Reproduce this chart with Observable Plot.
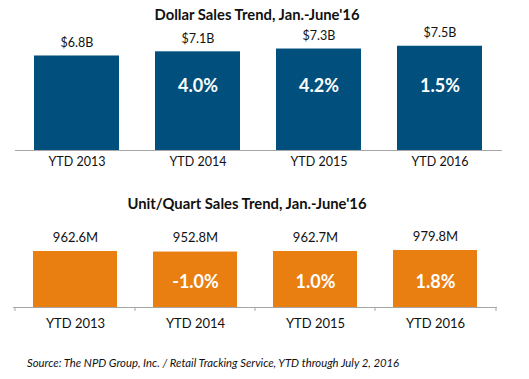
<!DOCTYPE html>
<html>
<head>
<meta charset="utf-8">
<script src="https://cdn.jsdelivr.net/npm/d3@7"></script>
<script src="https://cdn.jsdelivr.net/npm/@observablehq/plot@0.6"></script>
<style>
  html, body { margin: 0; padding: 0; background: #fff; }
  #wrap { position: relative; width: 529px; height: 379px; overflow: hidden; font-family: Lato, "Open Sans", sans-serif; color: #111; }
  .title { position: absolute; font-weight: bold; font-size: 14.8px; line-height: 16px; white-space: nowrap; transform: translateX(-50%); }
  .chart { position: absolute; left: 0; }
  .chart svg { display: block; }
  #source { position: absolute; left: 27px; top: 356px; font-style: italic; font-size: 11.3px; line-height: 14px; white-space: nowrap; color: #111; }
</style>
</head>
<body>
<div id="wrap">
  <div class="title" id="t1" style="left:257px; top:6px;">Dollar Sales Trend, Jan.-June'16</div>
  <div class="chart" id="c1" style="top:24px;"></div>
  <div class="title" id="t2" style="left:247px; top:195px;">Unit/Quart Sales Trend, Jan.-June'16</div>
  <div class="chart" id="c2" style="top:212px;"></div>
  <div id="source">Source: The NPD Group, Inc. / Retail Tracking Service, YTD through July 2, 2016</div>
</div>
<script>
const categories = ["YTD 2013", "YTD 2014", "YTD 2015", "YTD 2016"];
const dollarSales = [6.8, 7.1, 7.3, 7.5];          // $ billions
const dollarGrowth = [null, "4.0%", "4.2%", "1.5%"];
const unitSales = [962.6, 952.8, 962.7, 979.8];     // millions of units
const unitGrowth = [null, "-1.0%", "1.0%", "1.8%"];

const dollarData = categories.map((c, i) => ({cat: c, value: dollarSales[i], label: `$${dollarSales[i].toFixed(1)}B`, growth: dollarGrowth[i]}));
const unitData = categories.map((c, i) => ({cat: c, value: unitSales[i], label: `${unitSales[i].toFixed(1)}M`, growth: unitGrowth[i]}));

const W = 529;
const font = "Lato, 'Open Sans', sans-serif";

// Top chart
{
  const H = 160, mt = 14.8, mb = 34, ml = 15, mr = 27;
  const chart = Plot.plot({
    width: W, height: H,
    marginTop: mt, marginBottom: mb, marginLeft: ml, marginRight: mr,
    style: {fontFamily: font, background: "transparent", overflow: "visible"},
    x: {type: "band", domain: categories, paddingInner: 0.295, paddingOuter: 0.1475, axis: null},
    y: {domain: [0, 8], axis: null},
    marks: [
      Plot.barY(dollarData, {x: "cat", y: "value", fill: "#004F7C"}),
      Plot.ruleY([0], {stroke: "#A6A6A6", strokeWidth: 1.2}),
      Plot.text(dollarData, {x: "cat", y: "value", text: "label", dy: -13, fontSize: 12.5, fill: "#111"}),
      Plot.text(dollarData.filter(d => d.growth), {x: "cat", text: "growth", frameAnchor: "top", dy: 40, fontSize: 18, fontWeight: "bold", fill: "#fff"}),
      Plot.text(dollarData, {x: "cat", text: "cat", frameAnchor: "bottom", dy: 15, fontSize: 12.5, fill: "#111"})
    ]
  });
  document.getElementById("c1").append(chart);
}

// Bottom chart
{
  const H = 130, mt = 36.8, mb = 35, ml = 13, mr = 32;
  const step = (W - ml - mr) / categories.length;
  const plotH = H - mt - mb;
  const chart = Plot.plot({
    width: W, height: H,
    marginTop: mt, marginBottom: mb, marginLeft: ml, marginRight: mr,
    style: {fontFamily: font, background: "transparent", overflow: "visible"},
    x: {type: "band", domain: categories, paddingInner: 0.3, paddingOuter: 0.155, axis: null},
    y: {domain: [0, 1000], axis: null},
    marks: [
      Plot.barY(unitData, {x: "cat", y: "value", fill: "#E97E11"}),
      Plot.ruleY([0], {stroke: "#A6A6A6", strokeWidth: 1.2}),
      Plot.ruleX(categories, {x: d => d, dx: -step / 2, insetTop: plotH, insetBottom: -4, stroke: "#A6A6A6"}),
      Plot.ruleX(categories.slice(-1), {x: d => d, dx: step / 2, insetTop: plotH, insetBottom: -4, stroke: "#A6A6A6"}),
      Plot.text(unitData, {x: "cat", y: "value", text: "label", dy: -14, fontSize: 13, fill: "#111"}),
      Plot.text(unitData.filter(d => d.growth), {x: "cat", text: "growth", frameAnchor: "top", dy: 26, fontSize: 18, fontWeight: "bold", fill: "#fff"}),
      Plot.text(unitData, {x: "cat", text: "cat", frameAnchor: "bottom", dy: 20, fontSize: 13, fill: "#111"})
    ]
  });
  document.getElementById("c2").append(chart);
}
</script>
</body>
</html>
